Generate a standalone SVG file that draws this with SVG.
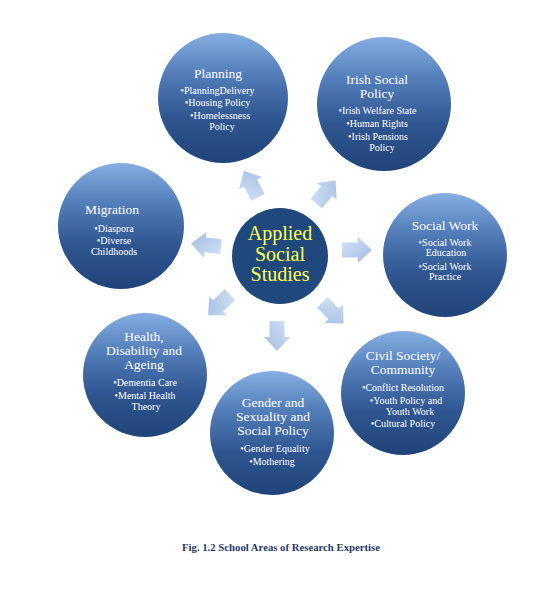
<svg xmlns="http://www.w3.org/2000/svg" width="552" height="603" viewBox="0 0 552 603">
<defs>
<linearGradient id="gBlue" x1="0" y1="0" x2="0" y2="1">
<stop offset="0" stop-color="#86aee2"/>
<stop offset="0.3" stop-color="#5580bb"/>
<stop offset="0.65" stop-color="#2f5690"/>
<stop offset="1" stop-color="#1f4479"/>
</linearGradient>
<linearGradient id="gArrow" x1="0" y1="0" x2="1" y2="1">
<stop offset="0" stop-color="#d3e1f5"/>
<stop offset="1" stop-color="#a3bde3"/>
</linearGradient>
<polygon id="arr" points="-15,-7.5 1,-7.5 1,-13 15,0 1,13 1,7.5 -15,7.5"/>
</defs>
<style>
.node{fill:url(#gBlue);}
.t{font-family:"Liberation Serif","DejaVu Serif",serif;fill:#ffffff;text-anchor:middle;}
.h{font-size:13.5px;}
.b{font-size:10px;}
.c{font-family:"Liberation Serif","DejaVu Serif",serif;fill:#ffff4d;text-anchor:middle;font-size:20px;}
.a{fill:url(#gArrow);}
</style>
<rect width="552" height="603" fill="#ffffff"/>

<g id="connectors">
<use href="#arr" class="a" transform="translate(251,184) rotate(-118)"/>
<use href="#arr" class="a" transform="translate(326,192) rotate(-50)"/>
<use href="#arr" class="a" transform="translate(206,245) rotate(-174)"/>
<use href="#arr" class="a" transform="translate(357,250) rotate(0)"/>
<use href="#arr" class="a" transform="translate(219,305) rotate(137)"/>
<use href="#arr" class="a" transform="translate(277,336) rotate(90)"/>
<use href="#arr" class="a" transform="translate(333,313) rotate(45)"/>
</g>

<g id="center">
<circle cx="280" cy="256" r="48" fill="#1f497d"/>
<text class="c" x="280" y="240">Applied</text>
<text class="c" x="280" y="261">Social</text>
<text class="c" x="280" y="281">Studies</text>
</g>

<g id="planning">
<circle class="node" cx="223" cy="98" r="65"/>
<text class="t h" x="218" y="78">Planning</text>
<text class="t b" x="217.5" y="94">•PlanningDelivery</text>
<text class="t b" x="217.5" y="106">•Housing Policy</text>
<text class="t b" x="220" y="118.5">•Homelessness</text>
<text class="t b" x="222" y="130">Policy</text>
</g>

<g id="irish-social-policy">
<circle class="node" cx="384" cy="104" r="67"/>
<text class="t h" x="377" y="84">Irish Social</text>
<text class="t h" x="377" y="98">Policy</text>
<text class="t b" x="377.5" y="114">•Irish Welfare State</text>
<text class="t b" x="377" y="127">•Human Rights</text>
<text class="t b" x="378" y="140">•Irish Pensions</text>
<text class="t b" x="382" y="151">Policy</text>
</g>

<g id="migration">
<circle class="node" cx="121" cy="226" r="63"/>
<text class="t h" x="112" y="214">Migration</text>
<text class="t b" x="114" y="232">•Diaspora</text>
<text class="t b" x="114" y="243.5">•Diverse</text>
<text class="t b" x="114" y="255">Childhoods</text>
</g>

<g id="social-work">
<circle class="node" cx="445" cy="255" r="62"/>
<text class="t h" x="445" y="230">Social Work</text>
<text class="t b" x="445" y="246">•Social Work</text>
<text class="t b" x="446" y="256">Education</text>
<text class="t b" x="445" y="270">•Social Work</text>
<text class="t b" x="445" y="280">Practice</text>
</g>

<g id="health">
<circle class="node" cx="145" cy="375" r="62"/>
<text class="t h" x="144" y="341">Health,</text>
<text class="t h" x="144" y="355">Disability and</text>
<text class="t h" x="144" y="368.5">Ageing</text>
<text class="t b" x="145" y="386">•Dementia Care</text>
<text class="t b" x="145" y="399">•Mental Health</text>
<text class="t b" x="146" y="410">Theory</text>
</g>

<g id="gender">
<circle class="node" cx="272" cy="433" r="62"/>
<text class="t h" x="273" y="407">Gender and</text>
<text class="t h" x="273" y="421">Sexuality and</text>
<text class="t h" x="273" y="435">Social Policy</text>
<text class="t b" x="275" y="452">•Gender Equality</text>
<text class="t b" x="272" y="465">•Mothering</text>
</g>

<g id="civil-society">
<circle class="node" cx="403" cy="393" r="62"/>
<text class="t h" x="403" y="359.5">Civil Society/</text>
<text class="t h" x="403" y="374">Community</text>
<text class="t b" x="403" y="391">•Conflict Resolution</text>
<text class="t b" x="406" y="404">•Youth Policy and</text>
<text class="t b" x="410" y="414.5">Youth Work</text>
<text class="t b" x="403" y="427">•Cultural Policy</text>
</g>

<text x="281" y="551" text-anchor="middle" font-family="Liberation Serif, DejaVu Serif, serif" font-weight="bold" font-size="9.5" fill="#1f3864" textLength="198" lengthAdjust="spacingAndGlyphs">Fig. 1.2 School Areas of Research Expertise</text>
</svg>
